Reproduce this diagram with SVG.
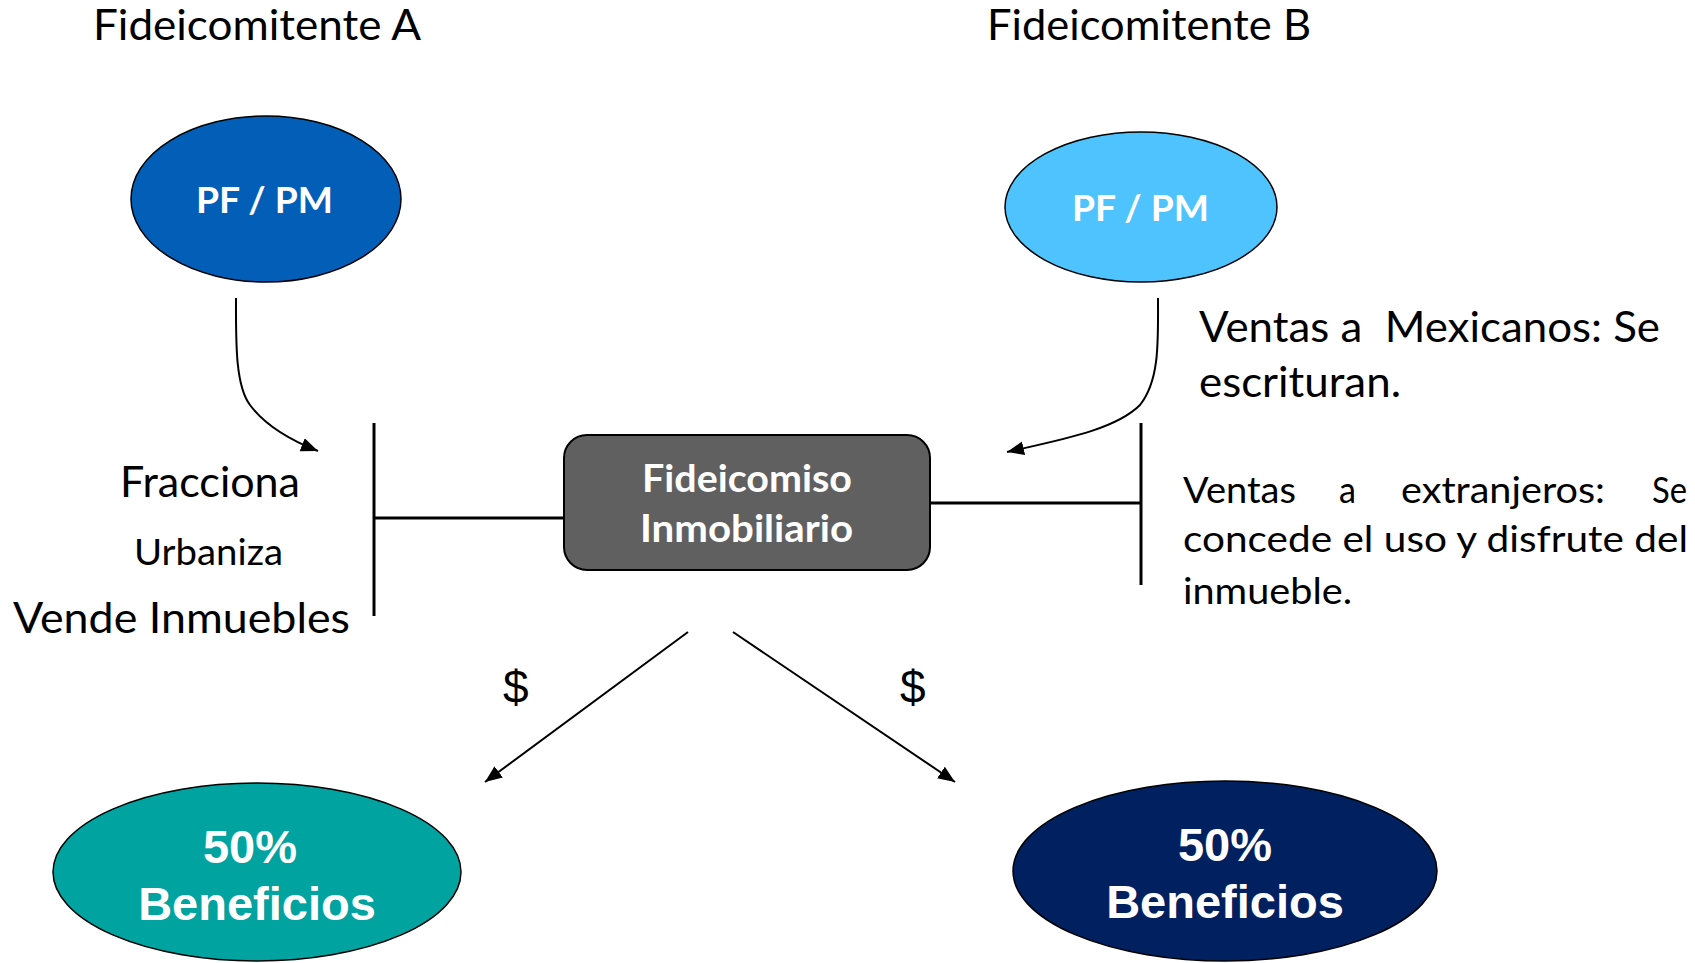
<svg xmlns="http://www.w3.org/2000/svg" width="1695" height="963" viewBox="0 0 1695 963">
<style>
.t{font-family:Lato,'Open Sans','DejaVu Sans',sans-serif;fill:#000}
.big{font-size:43px}
.mid{font-size:37.5px}
.wb{font-family:Lato,'Open Sans','DejaVu Sans',sans-serif;font-weight:bold;fill:#fff}
.ar{font-family:'Liberation Sans',Arial,sans-serif;font-weight:bold;fill:#fff;font-size:47px;text-anchor:middle}
.dl{font-family:'Liberation Sans',Arial,sans-serif;font-size:46px;fill:#000}
.ln{stroke:#000;fill:none}
.el{stroke:#000;stroke-width:1.5}
</style>
<defs>
<marker id="ah" markerUnits="userSpaceOnUse" markerWidth="20" markerHeight="16" refX="17" refY="7" orient="auto">
<path d="M0,0 L17,7 L0,14 Z" fill="#000"/>
</marker>
</defs>
<rect width="1695" height="963" fill="#fff"/>
<text class="t big" x="93" y="40" textLength="328" lengthAdjust="spacingAndGlyphs">Fideicomitente A</text>
<text class="t big" x="987" y="40" textLength="324" lengthAdjust="spacingAndGlyphs">Fideicomitente B</text>
<g id="pfA">
<ellipse class="el" cx="266" cy="199" rx="135" ry="83" fill="#035EB8"/>
<text class="wb" x="196" y="213" font-size="36" textLength="137" lengthAdjust="spacingAndGlyphs">PF / PM</text>
</g>
<g id="pfB">
<ellipse class="el" cx="1141" cy="207" rx="136" ry="75" fill="#4FC3FE"/>
<text class="wb" x="1072" y="221" font-size="36" textLength="137" lengthAdjust="spacingAndGlyphs">PF / PM</text>
</g>
<g id="fideicomiso">
<rect x="564" y="435" width="366" height="135" rx="23" ry="23" fill="#606060" stroke="#000" stroke-width="2"/>
<text class="wb" x="642" y="492" font-size="38" textLength="210" lengthAdjust="spacingAndGlyphs">Fideicomiso</text>
<text class="wb" x="640" y="542" font-size="38" textLength="213" lengthAdjust="spacingAndGlyphs">Inmobiliario</text>
</g>
<g id="benA">
<ellipse class="el" cx="257" cy="872" rx="204" ry="89" fill="#00A39F"/>
<text class="ar" x="250" y="863">50%</text>
<text class="ar" x="257" y="920">Beneficios</text>
</g>
<g id="benB">
<ellipse class="el" cx="1225" cy="871" rx="212" ry="90" fill="#002060"/>
<text class="ar" x="1225" y="861">50%</text>
<text class="ar" x="1225" y="918">Beneficios</text>
</g>
<g id="labelsA">
<text class="t big" x="120" y="497" textLength="180" lengthAdjust="spacingAndGlyphs">Fracciona</text>
<text class="t mid" x="134" y="565" textLength="149" lengthAdjust="spacingAndGlyphs">Urbaniza</text>
<text class="t big" x="13" y="633" textLength="337" lengthAdjust="spacingAndGlyphs">Vende Inmuebles</text>
</g>
<g id="labelsB">
<text class="t big" x="1199" y="342" xml:space="preserve" textLength="461" lengthAdjust="spacingAndGlyphs">Ventas a  Mexicanos: Se</text>
<text class="t big" x="1199" y="397" textLength="202" lengthAdjust="spacingAndGlyphs">escrituran.</text>
<text class="t mid" y="503"><tspan x="1183" textLength="113" lengthAdjust="spacingAndGlyphs">Ventas</tspan> <tspan x="1339" textLength="17" lengthAdjust="spacingAndGlyphs">a</tspan> <tspan x="1401" textLength="204" lengthAdjust="spacingAndGlyphs">extranjeros:</tspan> <tspan x="1652" textLength="35" lengthAdjust="spacingAndGlyphs">Se</tspan></text>
<text class="t mid" x="1183" y="552" textLength="505" lengthAdjust="spacingAndGlyphs">concede el uso y disfrute del</text>
<text class="t mid" x="1183" y="604" textLength="169" lengthAdjust="spacingAndGlyphs">inmueble.</text>
</g>
<g id="connectors">
<path class="ln" stroke-width="2" d="M236,298 C236,340 235,385 250,405 C265,425 290,440 318,451" marker-end="url(#ah)"/>
<path class="ln" stroke-width="2" d="M1158,298 C1158,340 1160,380 1140,405 C1115,430 1060,440 1007,452" marker-end="url(#ah)"/>
<line class="ln" stroke-width="3" x1="374" y1="423" x2="374" y2="616"/>
<line class="ln" stroke-width="3" x1="374" y1="518" x2="564" y2="518"/>
<line class="ln" stroke-width="3" x1="930" y1="503" x2="1141" y2="503"/>
<line class="ln" stroke-width="3" x1="1141" y1="423" x2="1141" y2="585"/>
<line class="ln" stroke-width="2" x1="688" y1="632" x2="485" y2="782" marker-end="url(#ah)"/>
<line class="ln" stroke-width="2" x1="733" y1="632" x2="955" y2="782" marker-end="url(#ah)"/>
<text class="dl" x="503" y="703">$</text>
<text class="dl" x="900" y="703">$</text>
</g>
</svg>
